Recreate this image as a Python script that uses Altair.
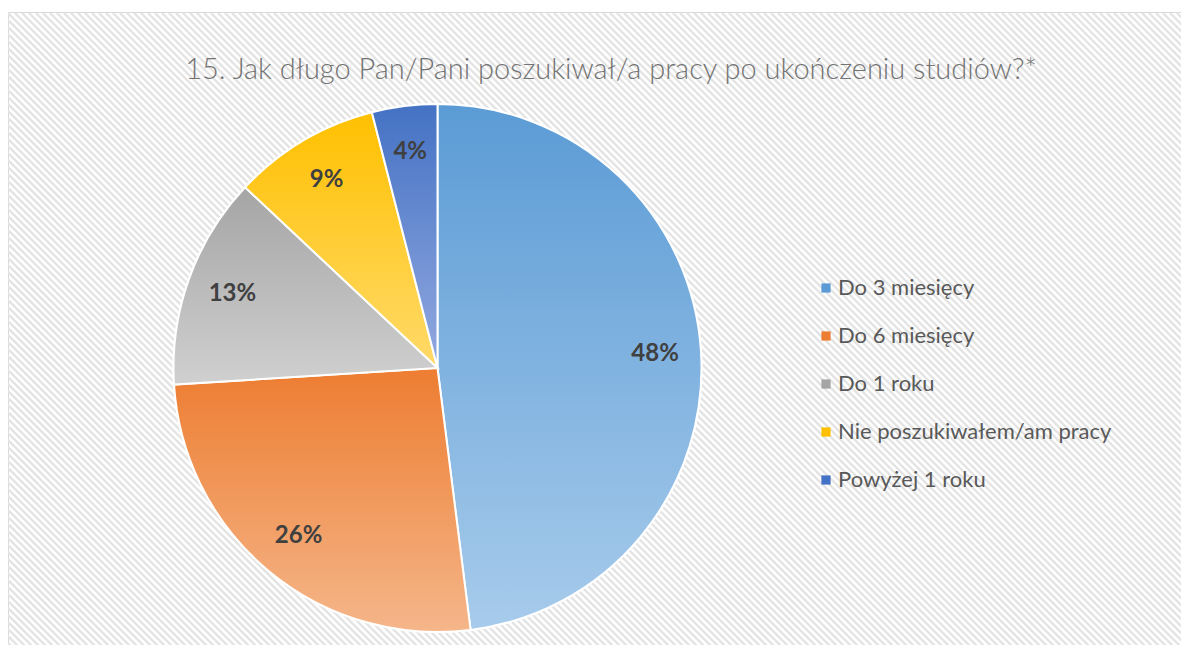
import math
import altair as alt
import pandas as pd

# ---- data ----
categories = ["Do 3 miesięcy", "Do 6 miesięcy", "Do 1 roku",
              "Nie poszukiwałem/am pracy", "Powyżej 1 roku"]
values = [48, 26, 13, 9, 4]
labels = ["48%", "26%", "13%", "9%", "4%"]
solid_colors = ["#5b9bd5", "#ed7d31", "#a5a5a5", "#ffc000", "#4472c4"]
grad_top = ["#5b9bd5", "#ed7d31", "#a5a5a5", "#ffc000", "#4472c4"]
grad_bottom = ["#a7cbeb", "#f5b68a", "#d0d0d0", "#ffda6a", "#93a9e0"]
title_text = "15. Jak długo Pan/Pani poszukiwał/a pracy po ukończeniu studiów?*"

df = pd.DataFrame({"cat": categories, "value": values, "label": labels,
                   "idx": list(range(len(categories)))})

W, H = 1173, 637
CX, CY, R = 429.5, 360, 264

base = alt.Chart(df).transform_window(
    cum="sum(value)", sort=[alt.SortField("idx")], frame=[None, 0]
).transform_calculate(
    start="datum.cum - datum.value", mid="datum.cum - datum.value / 2"
)

theta_scale = alt.Scale(domain=[0, 100], range=[0, 2 * math.pi])
theta = alt.Theta("start:Q", scale=theta_scale, stack=None)
theta2 = alt.Theta2("cum:Q")

# frame + hatch background
frame = alt.Chart(pd.DataFrame({"a": [0]})).mark_rect(
    fill="white", stroke="#d9d9d9", strokeWidth=1
).encode(x=alt.value(0.5), x2=alt.value(W + 50), y=alt.value(4.5), y2=alt.value(H + 50))

hatch = alt.Chart(alt.sequence(start=-700, stop=W + 10, step=7, as_="a")).transform_calculate(
    x0="datum.a", y0="5", x1="datum.a + 720", y1="725"
).mark_rule(color="#e4e4e4", strokeWidth=2.4).encode(
    x=alt.X("x0:Q", scale=None), y=alt.Y("y0:Q", scale=None),
    x2="x1:Q", y2="y1:Q"
)

pie_base = base.mark_arc(radius=R, stroke="white", strokeWidth=2).encode(
    theta=theta, theta2=theta2,
    x=alt.value(CX), y=alt.value(CY),
    color=alt.Color(
        "cat:N",
        scale=alt.Scale(domain=categories, range=solid_colors),
        legend=alt.Legend(
            title=None, orient="none", legendX=807, legendY=269,
            symbolType="square", symbolSize=85, symbolStrokeWidth=0,
            labelFontSize=22, labelFont="Lato", labelColor="#595959",
            rowPadding=26, labelLimit=500, labelOffset=1,
        ),
    ),
    order=alt.Order("idx:Q"),
)

overlays = []
for i, c in enumerate(categories):
    grad = alt.LinearGradient(
        gradient="linear", x1=0, x2=0, y1=0, y2=1,
        stops=[alt.GradientStop(color=grad_top[i], offset=0),
               alt.GradientStop(color=grad_bottom[i], offset=1)],
    )
    overlays.append(
        base.transform_filter(alt.datum.cat == c).mark_arc(
            radius=R, fill=grad, stroke="white", strokeWidth=2
        ).encode(theta=theta, theta2=theta2, x=alt.value(CX), y=alt.value(CY))
    )

pct = base.mark_text(
    radius=218, font="Lato", fontSize=24, fontWeight="bold", color="#404040"
).encode(
    theta=alt.Theta("mid:Q", scale=theta_scale, stack=None),
    text="label:N", x=alt.value(CX), y=alt.value(CY),
)

title = alt.Chart(pd.DataFrame({"t": [title_text]})).mark_text(
    font="Lato", fontSize=29, fontWeight=300, color="#737373",
    align="center", baseline="alphabetic"
).encode(text="t:N", x=alt.value(603), y=alt.value(71))

chart = alt.layer(frame, hatch, pie_base, *overlays, pct, title).properties(
    width=W, height=H, autosize=alt.AutoSizeParams(type="none"), padding=0,
    background="white",
).configure_view(stroke=None)

chart.save("out.html", embed_options={"renderer": "svg", "actions": False})
